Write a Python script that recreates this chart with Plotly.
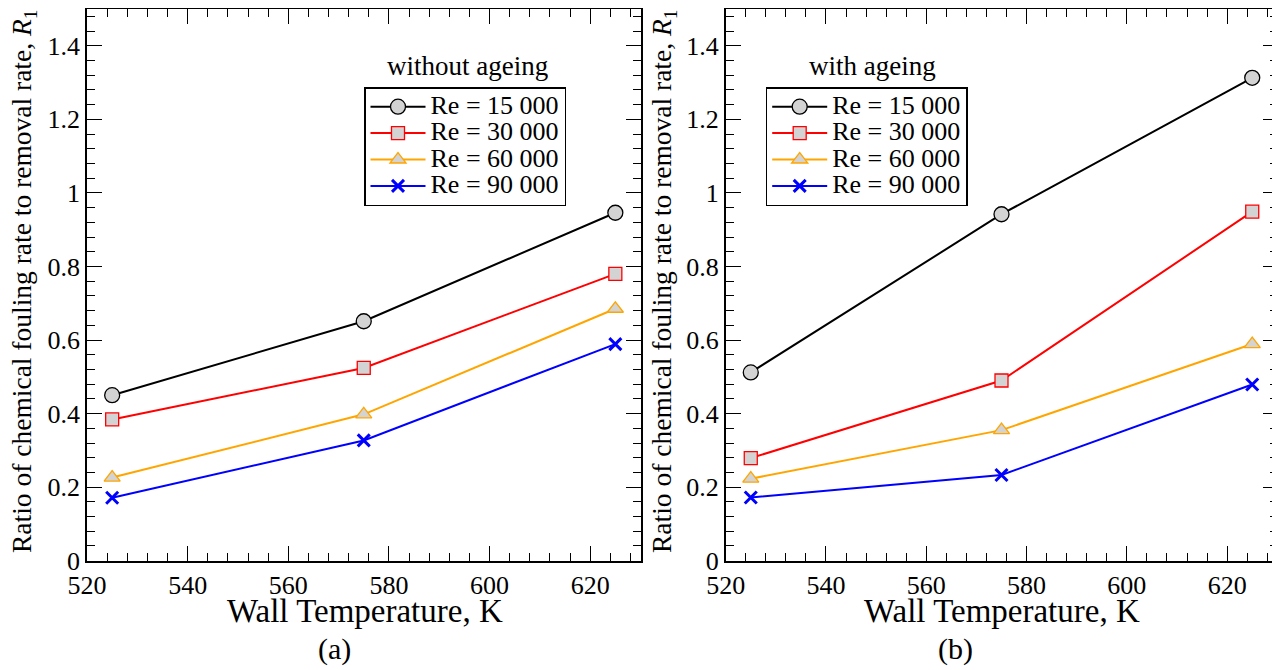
import plotly.graph_objects as go

temps = [525, 575, 625]
series_names = ["Re = 15 000", "Re = 30 000", "Re = 60 000", "Re = 90 000"]

without_15000 = [0.450, 0.651, 0.946]
without_30000 = [0.384, 0.524, 0.780]
without_60000 = [0.226, 0.398, 0.685]
without_90000 = [0.171, 0.327, 0.589]

with_15000 = [0.512, 0.942, 1.313]
with_30000 = [0.279, 0.490, 0.949]
with_60000 = [0.223, 0.355, 0.589]
with_90000 = [0.172, 0.233, 0.479]

x_ticks = [520, 540, 560, 580, 600, 620]
y_ticks = [0, 0.2, 0.4, 0.6, 0.8, 1, 1.2, 1.4]

line_colors = ["#000000", "#ff0000", "#ffa500", "#0000ff"]
marker_symbols = ["circle", "square", "triangle-up", "x-thin-open"]
marker_sizes = [15, 13, 14, 12]

FONT = "Liberation Serif, Times New Roman, serif"
# the page body adds an 8px margin at the top-left
OFF = 8
W, H = 1280 - OFF, 670 - OFF

def sx(px):
    return (px - OFF) / W

def sy(py):
    return 1 - (py - OFF) / H

fig = go.Figure()

panels = [
    ([without_15000, without_30000, without_60000, without_90000], "x", "y", "legend"),
    ([with_15000, with_30000, with_60000, with_90000], "x2", "y2", "legend2"),
]

for data, xa, ya, lg in panels:
    for i, vals in enumerate(data):
        is_x = marker_symbols[i].startswith("x")
        fig.add_trace(go.Scatter(
            x=temps, y=vals, mode="lines+markers",
            name='<span style="font-size:26px">' + series_names[i] + "</span>",
            xaxis=xa, yaxis=ya, legend=lg,
            line=dict(color=line_colors[i], width=2),
            marker=dict(
                symbol=marker_symbols[i], size=marker_sizes[i],
                color=line_colors[i] if is_x else "#d3d3d3",
                line=dict(color=line_colors[i], width=3 if is_x else 1.3),
            ),
        ))

axis_common = dict(
    showline=True, linecolor="black", linewidth=1.6, mirror="ticks",
    ticks="inside", ticklen=15, tickwidth=1.3, tickcolor="black",
    showgrid=False, zeroline=False, automargin=False,
    tickfont=dict(family=FONT, size=26, color="black"),
)

xaxis_cfg = dict(axis_common, range=[520, 630], tickmode="array", tickvals=x_ticks,
                 minor=dict(dtick=4, tick0=520, ticks="inside", ticklen=8, tickwidth=1.3, tickcolor="black"))
yaxis_cfg = dict(axis_common, range=[0, 1.5], tickmode="array", tickvals=y_ticks,
                 minor=dict(dtick=0.04, tick0=0, ticks="inside", ticklen=8, tickwidth=1.3, tickcolor="black"))

ydom = [sy(560.7), sy(9)]

legend_common = dict(
    xanchor="left", yanchor="top", bordercolor="black", borderwidth=1.5,
    bgcolor="white", font=dict(family=FONT, size=18, color="black"),
    tracegroupgap=0, itemwidth=55,
)

ylabel = "Ratio of chemical fouling rate to removal rate, <i>R</i><sub>1</sub>"

def pa(text, px, py, size, angle=0):
    return dict(text=text, x=sx(px), y=sy(py), xref="paper", yref="paper",
                showarrow=False, textangle=angle, xanchor="center", yanchor="middle",
                font=dict(family=FONT, size=size, color="black"))

fig.update_layout(
    width=W, height=H,
    margin=dict(l=0, r=0, t=0, b=0),
    paper_bgcolor="white", plot_bgcolor="white",
    font=dict(family=FONT, color="black"),
    xaxis=dict(xaxis_cfg, domain=[sx(87), sx(640.5)], anchor="y"),
    yaxis=dict(yaxis_cfg, domain=ydom, anchor="x"),
    xaxis2=dict(xaxis_cfg, domain=[sx(725.7), sx(1277.3)], anchor="y2"),
    yaxis2=dict(yaxis_cfg, domain=ydom, anchor="x2"),
    showlegend=True,
    legend=dict(legend_common, x=sx(364), y=sy(87)),
    legend2=dict(legend_common, x=sx(765.7), y=sy(87)),
    annotations=[
        pa("without ageing", 467, 66, 27),
        pa("with ageing", 872, 66, 27),
        pa(ylabel, 23, 282, 27.5, -90),
        pa(ylabel, 663, 282, 27.5, -90),
        pa("Wall Temperature, K", 365, 611, 33),
        pa("Wall Temperature, K", 1002, 611, 33),
        pa("(a)", 334, 649, 30),
        pa("(b)", 955, 649, 30),
    ],
)

fig.write_html("out.html")
